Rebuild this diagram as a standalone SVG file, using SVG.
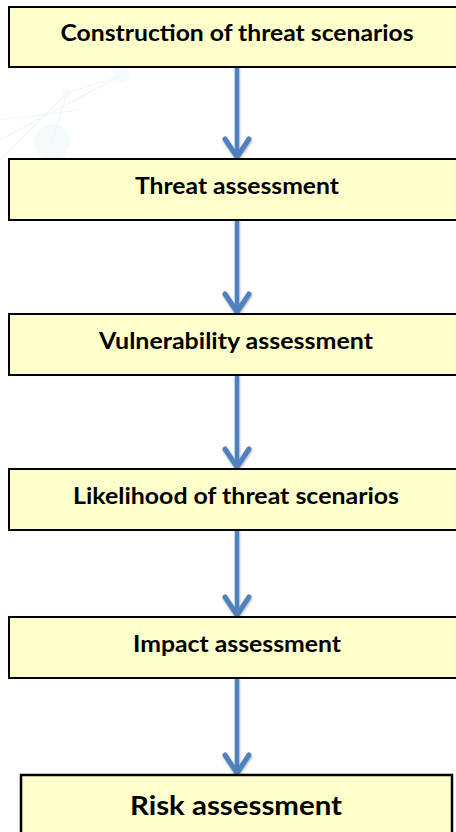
<svg xmlns="http://www.w3.org/2000/svg" width="456" height="832" viewBox="0 0 456 832">
<defs>
<style>
.box{fill:#FFFFCC;stroke:#000;stroke-width:2}
.lbl{font-family:Lato,"Open Sans","Liberation Sans",sans-serif;font-weight:bold;font-size:22px;fill:#000;text-anchor:middle}
.big{font-size:27px}
.shaft{stroke:#4F81BD;stroke-width:4.5;fill:none}
.head{stroke:#4F81BD;stroke-width:5;fill:none;stroke-linecap:round;stroke-linejoin:miter}
.bg{fill:#EEF6FB;opacity:0.6}
.bgl{stroke:#EEF6FB;stroke-width:1.2;fill:none}
</style>
<filter id="sh" x="-50%" y="-10%" width="200%" height="130%">
<feDropShadow dx="0.5" dy="1.5" stdDeviation="1.2" flood-color="#000" flood-opacity="0.3"/>
</filter>
</defs>
<g id="background">
<path class="bgl" d="M0 160 L67 93 L122 75 M67 93 L52 142 M0 140 L122 75 M0 120 L80 110"/>
<circle class="bg" cx="52" cy="142" r="18"/>
<circle class="bg" cx="67" cy="93" r="5"/>
<circle class="bg" cx="122" cy="75" r="7"/>
</g>
<g id="connectors" filter="url(#sh)">
<g id="c1"><line class="shaft" x1="237" y1="67" x2="237" y2="156"/><polyline class="head" points="225,139 237,157 249,139"/></g>
<g id="c2"><line class="shaft" x1="237" y1="220" x2="237" y2="311"/><polyline class="head" points="225,294 237,312 249,294"/></g>
<g id="c3"><line class="shaft" x1="237" y1="375" x2="237" y2="466"/><polyline class="head" points="225,449 237,467 249,449"/></g>
<g id="c4"><line class="shaft" x1="237" y1="530" x2="237" y2="614"/><polyline class="head" points="225,597 237,615 249,597"/></g>
<g id="c5"><line class="shaft" x1="237" y1="678" x2="237" y2="772"/><polyline class="head" points="225,755 237,773 249,755"/></g>
</g>
<g id="n1"><rect class="box" x="9" y="7" width="460" height="60"/><text class="lbl" x="237" y="41" textLength="353" lengthAdjust="spacingAndGlyphs">Construction of threat scenarios</text></g>
<g id="n2"><rect class="box" x="9" y="159" width="460" height="61"/><text class="lbl" x="237" y="194" textLength="204" lengthAdjust="spacingAndGlyphs">Threat assessment</text></g>
<g id="n3"><rect class="box" x="9" y="314" width="460" height="61"/><text class="lbl" x="236" y="349" textLength="274" lengthAdjust="spacingAndGlyphs">Vulnerability assessment</text></g>
<g id="n4"><rect class="box" x="9" y="469" width="460" height="61"/><text class="lbl" x="236" y="504" textLength="326" lengthAdjust="spacingAndGlyphs">Likelihood of threat scenarios</text></g>
<g id="n5"><rect class="box" x="9" y="617" width="460" height="61"/><text class="lbl" x="237" y="652" textLength="208" lengthAdjust="spacingAndGlyphs">Impact assessment</text></g>
<g id="n6"><rect class="box" x="21" y="775" width="431" height="70" style="stroke-width:2.5"/><text class="lbl big" x="236" y="815" textLength="212" lengthAdjust="spacingAndGlyphs">Risk assessment</text></g>
</svg>
